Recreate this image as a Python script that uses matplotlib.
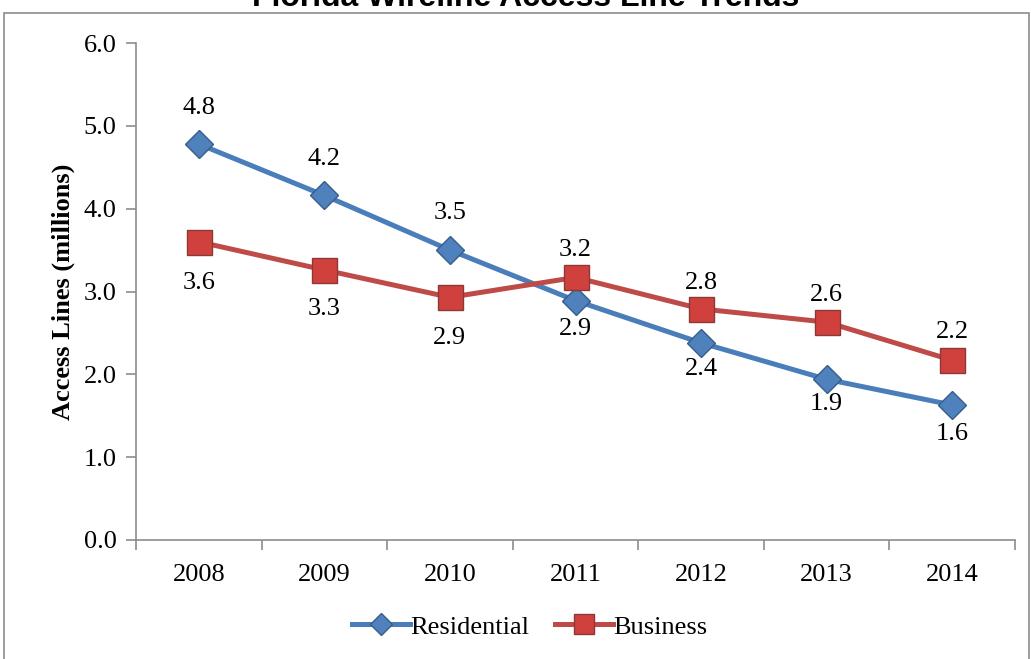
import matplotlib
matplotlib.use("Agg")
import matplotlib.pyplot as plt
from matplotlib.patches import Rectangle
import numpy as np

years = ["2008", "2009", "2010", "2011", "2012", "2013", "2014"]
residential = [4.78, 4.16, 3.50, 2.89, 2.38, 1.94, 1.63]
business = [3.60, 3.26, 2.93, 3.17, 2.79, 2.63, 2.17]
res_labels = ["4.8", "4.2", "3.5", "2.9", "2.4", "1.9", "1.6"]
bus_labels = ["3.6", "3.3", "2.9", "3.2", "2.8", "2.6", "2.2"]

# label offsets (pixels, + is up)
res_off = [36, 36, 37, -28, -26, -25, -29]
bus_off = [-41, -39, -41, 27, 26, 27, 28]

plt.rcParams["font.family"] = ["Liberation Serif", "DejaVu Serif"]

fig = plt.figure(figsize=(10.31, 6.59), dpi=100)
ax = fig.add_axes([136 / 1031, 1 - 540 / 659, (1015 - 136) / 1031, (540 - 43) / 659])

# outer chart border
fig.patches.append(Rectangle((4 / 1031, -0.05), 1025 / 1031, 1.05 - 13 / 659,
                             transform=fig.transFigure, fill=False,
                             edgecolor="#8c8c8c", linewidth=1.2))

fig.text(0.51, 1 - 6 / 659, "Florida Wireline Access Line Trends",
         ha="center", va="baseline", fontsize=23, fontweight="bold",
         family="Liberation Sans")

x = np.arange(len(years))
ax.plot(x, residential, color="#4A7EBB", lw=3.6, marker="D", ms=14.5,
        mfc="#4F81BD", mec="#385D8A", mew=1.0, label="Residential", zorder=3)
ax.plot(x, business, color="#BE4B48", lw=3.6, marker="s", ms=18,
        mfc="#D0413E", mec="#8C3836", mew=1.0, label="Business", zorder=3)

for i in range(len(years)):
    ax.annotate(res_labels[i], (x[i], residential[i]), xytext=(0, res_off[i]),
                textcoords="offset pixels", ha="center", va="center", fontsize=19)
    ax.annotate(bus_labels[i], (x[i], business[i]), xytext=(0, bus_off[i]),
                textcoords="offset pixels", ha="center", va="center", fontsize=19)

ax.set_xlim(-0.5, len(years) - 0.5)
ax.set_ylim(0, 6)
ax.set_yticks(np.arange(0, 6.1, 1.0))
ax.set_yticklabels([f"{v:.1f}" for v in np.arange(0, 6.1, 1.0)])
ax.set_xticks(x)
ax.set_xticklabels(years)
ax.set_xticks(np.arange(-0.5, len(years), 1.0), minor=True)
ax.tick_params(axis="x", which="major", length=0, pad=17, labelsize=19)
ax.tick_params(axis="x", which="minor", length=7, width=1.2, color="#8c8c8c")
ax.tick_params(axis="y", length=7, width=1.2, color="#8c8c8c", pad=7, labelsize=19)

for s in ["top", "right"]:
    ax.spines[s].set_visible(False)
for s in ["left", "bottom"]:
    ax.spines[s].set_color("#8c8c8c")
    ax.spines[s].set_linewidth(1.2)

ax.set_ylabel("Access Lines (millions)", fontsize=19, fontweight="bold", labelpad=6)

ax.legend(loc="center", bbox_to_anchor=(0.448, -0.175), ncol=2, frameon=False,
          fontsize=19, handlelength=2.2, columnspacing=1.0, handletextpad=0.0,
          markerscale=0.8)

fig.savefig("out.png", dpi=100)
